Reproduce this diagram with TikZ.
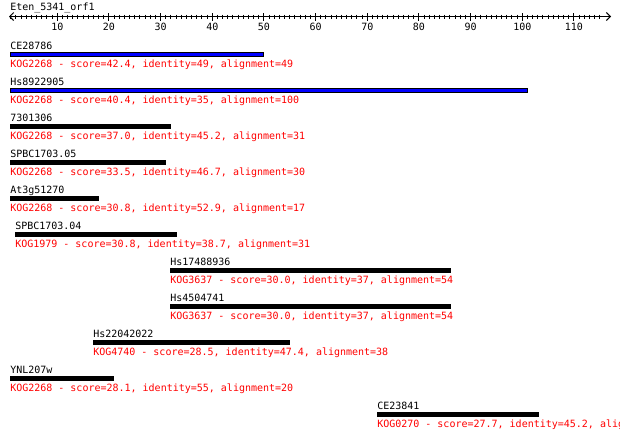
\documentclass[tikz,border=0pt]{standalone}
\usepackage{fontspec}
\setmonofont{DejaVu Sans Mono}
\usetikzlibrary{arrows.meta}

\begin{document}
\begin{tikzpicture}[x=0.75pt, y=-0.75pt,
    every node/.style={font=\ttfamily\fontsize{7.5}{9}\selectfont, inner sep=0pt},
    hitname/.style={anchor=base west, text=black},
    hitinfo/.style={anchor=base west, text=red},
    bluebar/.style={draw=black, fill=blue, line width=0.75pt},
    blackbar/.style={fill=black},
    ruler/.style={line width=0.75pt, {Straight Barb[length=3pt, width=6pt]}-{Straight Barb[length=3pt, width=6pt]}}]

    \clip (0,0) rectangle (620,437);

	% Query ruler
    \node[hitname] (query) at (10,10) {Eten\_5341\_orf1};
    \draw[ruler] (9,16.5) coordinate (r0) -- (611,16.5) coordinate (r1);
    \foreach \i in {1,...,115}
        \draw[line width=0.75pt] (\i*5.167+5.6,14.5) -- (\i*5.167+5.6,19);
    \foreach \i in {10,20,...,110} {
        \draw[line width=0.75pt] (\i*5.167+5.6,13) -- (\i*5.167+5.6,21);
        \node[anchor=base] (tick\i) at (\i*5.167+5.6,30) {\i};
    }

	% CE28786
    \node[hitname] (ce28786) at (10,49) {CE28786};
    \draw[bluebar] (10.5,52.5) rectangle (263.5,56.5);
    \node[hitinfo] (ce28786info) at (10,67.3) {KOG2268 - score=42.4, identity=49, alignment=49};

	% Hs8922905
    \node[hitname] (hs8922905) at (10,85) {Hs8922905};
    \draw[bluebar] (10.5,88.5) rectangle (527.5,92.5);
    \node[hitinfo] (hs8922905info) at (10,103.3) {KOG2268 - score=40.4, identity=35, alignment=100};

	% 7301306
    \node[hitname] (n7301306) at (10,121) {7301306};
    \fill[blackbar] (10,124) rectangle (171,128.7);
    \node[hitinfo] (n7301306info) at (10,139.3) {KOG2268 - score=37.0, identity=45.2, alignment=31};

	% SPBC1703.05
    \node[hitname] (spbc05) at (10,157) {SPBC1703.05};
    \fill[blackbar] (10,160) rectangle (166,164.7);
    \node[hitinfo] (spbc05info) at (10,175.3) {KOG2268 - score=33.5, identity=46.7, alignment=30};

	% At3g51270
    \node[hitname] (at3g51270) at (10,193) {At3g51270};
    \fill[blackbar] (10,196) rectangle (99,200.7);
    \node[hitinfo] (at3g51270info) at (10,211.3) {KOG2268 - score=30.8, identity=52.9, alignment=17};

	% SPBC1703.04
    \node[hitname] (spbc04) at (15,229) {SPBC1703.04};
    \fill[blackbar] (15,232) rectangle (177,236.7);
    \node[hitinfo] (spbc04info) at (15,247.3) {KOG1979 - score=30.8, identity=38.7, alignment=31};

	% Hs17488936
    \node[hitname] (hs17488936) at (170,265) {Hs17488936};
    \fill[blackbar] (170,268) rectangle (451,272.7);
    \node[hitinfo] (hs17488936info) at (170,283.3) {KOG3637 - score=30.0, identity=37, alignment=54};

	% Hs4504741
    \node[hitname] (hs4504741) at (170,301) {Hs4504741};
    \fill[blackbar] (170,304) rectangle (451,308.7);
    \node[hitinfo] (hs4504741info) at (170,319.3) {KOG3637 - score=30.0, identity=37, alignment=54};

	% Hs22042022
    \node[hitname] (hs22042022) at (93,337) {Hs22042022};
    \fill[blackbar] (93,340) rectangle (290,344.7);
    \node[hitinfo] (hs22042022info) at (93,355.3) {KOG4740 - score=28.5, identity=47.4, alignment=38};

	% YNL207w
    \node[hitname] (ynl207w) at (10,373) {YNL207w};
    \fill[blackbar] (10,376) rectangle (114,380.7);
    \node[hitinfo] (ynl207winfo) at (10,391.3) {KOG2268 - score=28.1, identity=55, alignment=20};

	% CE23841
    \node[hitname] (ce23841) at (377,409) {CE23841};
    \fill[blackbar] (377,412) rectangle (539,416.7);
    \node[hitinfo] (ce23841info) at (377,427.3) {KOG0270 - score=27.7, identity=45.2, alignment=31};

\end{tikzpicture}
\end{document}
